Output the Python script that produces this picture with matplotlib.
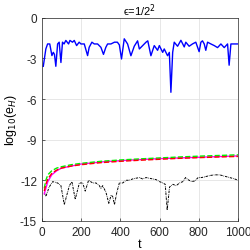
import numpy as np
import matplotlib.pyplot as plt

plt.rcParams['font.family'] = ['Liberation Sans', 'DejaVu Sans']
plt.rcParams['axes.unicode_minus'] = False

# blue series (hand read)
t_blue = [7, 20, 29, 40, 51, 58, 64, 71, 80, 88, 97, 105, 113, 122, 136, 143, 156, 165, 177, 190, 199, 216, 233, 241, 255, 267, 284, 301, 314, 326, 335,
          352, 370, 385, 395, 406, 420, 437, 454, 471, 488, 497, 514, 531, 540, 556, 573, 590, 599, 616, 624, 641, 650, 658, 667,
          675, 692, 709, 726, 734, 751, 768, 785, 802, 811, 819, 828, 836, 845, 862, 879, 896, 913, 930, 947, 955, 964, 981, 998]
v_blue = [-3.58, -2.3, -1.93, -1.93, -2.79, -2.55, -2.7, -3.58, -1.93, -1.8, -3.3, -1.8, -1.93, -1.67, -1.93, -1.67, -1.8, -1.67, -2.05, -1.8, -1.93, -1.93, -2.79, -2.18, -1.8, -1.93, -1.93, -2.18, -2.7, -2.18, -1.93,
          -1.93, -1.8, -1.8, -2.0, -3.04, -1.55, -1.93, -2.8, -2.1, -1.7, -2.3, -2.05, -1.8, -1.7, -2.8, -2.05, -2.4, -2.05, -2.55, -2.3, -2.8, -2.55, -5.5, -2.55,
          -1.8, -2.1, -1.66, -2.15, -1.8, -2.1, -1.93, -1.8, -2.5, -1.8, -1.7, -1.93, -2.4, -1.8, -1.93, -2.05, -2.2, -1.93, -2.2, -1.93, -3.5, -1.93, -1.93, -1.93]

# black series
t_black = [12, 20, 37, 55, 80, 97, 114, 140, 153, 170, 191, 208, 221, 238, 259, 276, 293, 301, 310, 327, 341, 353, 361, 370, 382, 395,
           412, 429, 446, 463, 480, 497, 514, 531, 548, 565, 582, 600, 617, 629, 639, 651, 668, 685, 702, 719, 733, 745, 763, 780,
           797, 814, 830, 856, 881, 907, 932, 958, 983, 1000]
v_black = [-12.9, -13.2, -12.5, -12.1, -12.2, -12.4, -13.8, -12.4, -12.1, -13.4, -12.2, -12.2, -12.8, -12.0, -12.2, -12.2, -12.4, -12.6, -12.4, -12.9, -13.7, -13.1, -13.2, -13.8, -12.9, -12.2,
           -12.2, -12.0, -12.0, -11.9, -11.85, -11.8, -11.9, -11.8, -11.85, -11.9, -11.95, -12.1, -12.2, -12.3, -14.2, -12.5, -12.3, -12.4, -12.2, -12.1, -11.8, -11.95, -12.1, -12.05,
           -11.8, -11.8, -11.75, -11.65, -11.6, -11.6, -11.7, -11.8, -11.9, -12.0]

# rising curves
t_c = [12, 20, 30, 50, 75, 100, 150, 200, 300, 400, 500, 600, 700, 800, 900, 1000]
v_green = [-12.6, -12.0, -11.6, -11.3, -11.1, -11.0, -10.85, -10.75, -10.6, -10.5, -10.42, -10.35, -10.28, -10.22, -10.17, -10.12]
v_magenta = [-13.0, -12.6, -12.1, -11.6, -11.3, -11.1, -10.95, -10.8, -10.65, -10.55, -10.47, -10.4, -10.35, -10.3, -10.25, -10.2]
v_red = [-12.8, -12.3, -11.9, -11.5, -11.25, -11.1, -10.95, -10.85, -10.7, -10.6, -10.52, -10.45, -10.38, -10.33, -10.28, -10.24]

fig = plt.figure(figsize=(2.51, 2.51), dpi=100)
ax = fig.add_axes([0.167, 0.116, 0.781, 0.809])

ax.plot(t_blue, v_blue, color='#0000ff', lw=1.0)
ax.plot(t_black, v_black, color='black', lw=0.7, dashes=[2.5, 1, 0.6, 1])
ax.plot(t_c, v_magenta, color='#ff00ff', lw=1.0)
ax.plot(t_c, v_green, color='#00ee00', lw=1.0, ls='--')
ax.plot(t_c, v_red, color='#ff0000', lw=1.0, ls='--')

ax.set_xlim(0, 1000)
ax.set_ylim(-15, 0)
ax.set_xticks([0, 200, 400, 600, 800, 1000])
ax.set_yticks([0, -3, -6, -9, -12, -15])
ax.grid(True, color='#e3e3e3', lw=0.6)
ax.tick_params(direction='in', labelsize=8.5, length=2, width=0.5, colors='#262626')
for s in ax.spines.values():
    s.set_linewidth(0.5)
    s.set_color('#262626')

ax.set_title('\u03f5=1/2$^2$', fontsize=8, pad=2)
ax.set_xlabel('t', fontsize=9, labelpad=0)
ax.set_ylabel(r'log$_{10}$(e$_H$)', fontsize=9, labelpad=1)

fig.savefig('out.png', dpi=100)
